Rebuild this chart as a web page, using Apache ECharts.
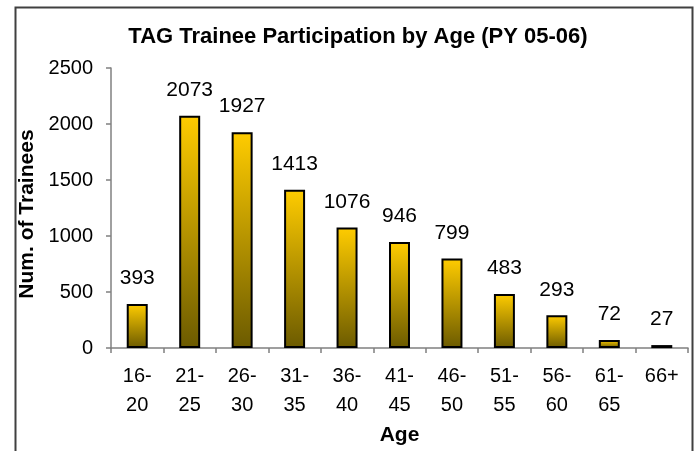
<!DOCTYPE html>
<html><head><meta charset="utf-8">
<script src="https://cdn.jsdelivr.net/npm/echarts@6/dist/echarts.min.js"></script>
<style>html,body{margin:0;padding:0;background:#fff}#c{width:698px;height:451px}</style>
</head><body><div id="c"></div>
<script>
const categories = ['16-\n20','21-\n25','26-\n30','31-\n35','36-\n40','41-\n45','46-\n50','51-\n55','56-\n60','61-\n65','66+'];
const trainees = [393, 2073, 1927, 1413, 1076, 946, 799, 483, 293, 72, 27];
const yTicks = { min: 0, max: 2500, interval: 500 };
const titleText = 'TAG Trainee Participation by Age (PY 05-06)';
const xName = 'Age';
const yName = 'Num. of Trainees';

const FONT = '"Liberation Sans", Arial, sans-serif';
const chart = echarts.init(document.getElementById('c'), null, {renderer: 'canvas'});
chart.setOption({
  animation: false,
  backgroundColor: '#fff',
  textStyle: { fontFamily: FONT },
  title: {
    text: titleText, left: 353, top: 21, textAlign: 'center',
    textStyle: { fontFamily: FONT, fontSize: 22, fontWeight: 'bold', color: '#000' }
  },
  graphic: [{
    type: 'rect', left: 13, top: 5, silent: true,
    shape: { width: 677, height: 460 },
    style: { fill: 'none', stroke: '#404040', lineWidth: 2 }
  }],
  grid: { left: 111, right: 10, top: 68, bottom: 102.5, containLabel: false },
  xAxis: {
    type: 'category', data: categories,
    name: xName, nameLocation: 'middle', nameGap: 82,
    nameTextStyle: { fontFamily: FONT, fontSize: 21, fontWeight: 'bold', color: '#000', verticalAlign: 'middle' },
    axisLine: { lineStyle: { color: '#808080', width: 1.5 } },
    axisTick: { show: true, length: 5, lineStyle: { color: '#808080', width: 1.5 } },
    axisLabel: { fontFamily: FONT, fontSize: 20, color: '#000', lineHeight: 29, margin: 14, interval: 0 }
  },
  yAxis: {
    type: 'value', min: yTicks.min, max: yTicks.max, interval: yTicks.interval,
    name: yName, nameLocation: 'middle', nameGap: 76, nameRotate: 90,
    nameTextStyle: { fontFamily: FONT, fontSize: 21, fontWeight: 'bold', color: '#000', verticalAlign: 'middle', padding: [0, 12, 0, 0] },
    axisLine: { show: true, lineStyle: { color: '#808080', width: 1.5 } },
    axisTick: { show: true, length: 5, lineStyle: { color: '#808080', width: 1.5 } },
    axisLabel: { fontFamily: FONT, fontSize: 20, color: '#000', margin: 18, formatter: v => String(v) },
    splitLine: { show: false }
  },
  series: [{
    type: 'bar', data: trainees, barWidth: '40%',
    itemStyle: {
      color: new echarts.graphic.LinearGradient(0, 0, 0, 1, [
        { offset: 0, color: '#FFCC00' },
        { offset: 1, color: '#6B5A00' }
      ]),
      borderColor: '#000', borderWidth: 2
    },
    label: { show: true, position: 'top', distance: 15, fontFamily: FONT, fontSize: 21, color: '#000' }
  }]
});
</script></body></html>
